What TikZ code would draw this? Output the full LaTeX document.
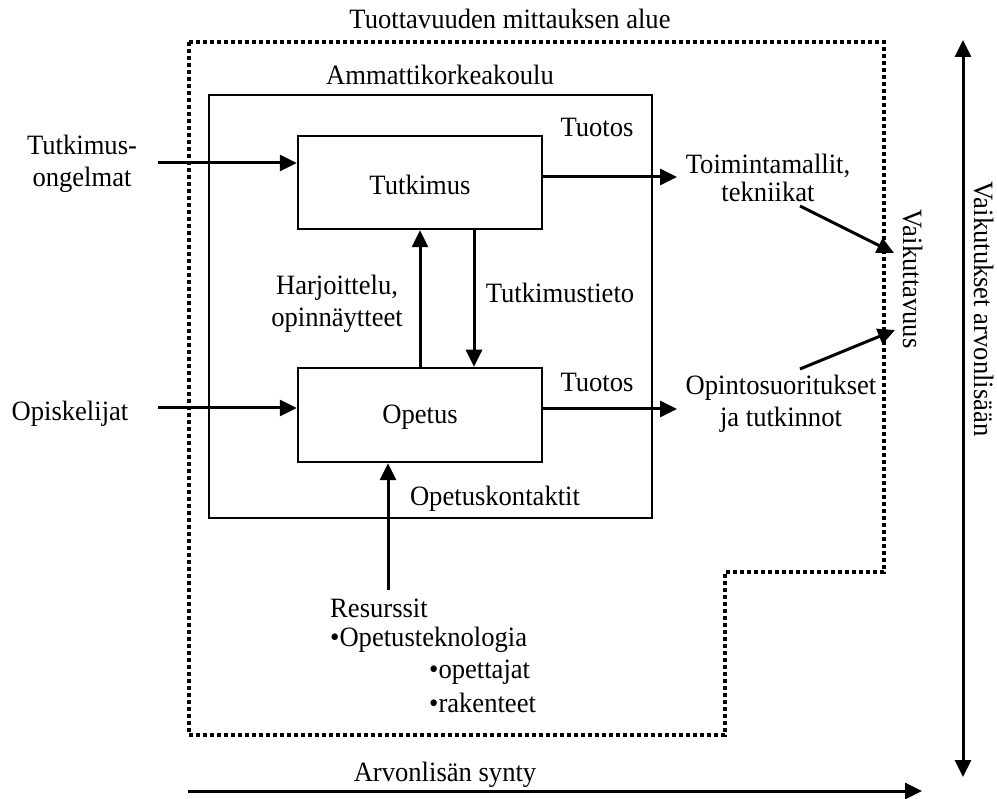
\documentclass[tikz,border=0pt]{standalone}
\usepackage{fontspec}
\setmainfont[FakeStretch=0.95]{Liberation Serif}
\usetikzlibrary{arrows.meta}
\begin{document}
\begin{tikzpicture}[x=1pt,y=-1pt,
  every node/.style={font=\fontsize{28}{32}\selectfont, inner sep=0pt},
  boxnode/.style={draw, line width=2.5pt},
  lbl/.style={align=center},
  conn/.style={line width=3pt, -{Triangle[length=17pt,width=16pt]}},
  dotline/.style={line width=3.8pt, dash pattern=on 4pt off 3pt}]
\useasboundingbox (0,0) rectangle (997,799);
% outline of measurement area
\draw[dotline] (189,42) -- (884,42) -- (884,572) -- (725,572) -- (725,735) -- (189,735) -- cycle;
\node (title) at (510,19) {Tuottavuuden mittauksen alue};
% institution
\node (amk) [boxnode, minimum width=443pt, minimum height=423pt] at (430.5,306.5) {};
\node (amklbl) at (440,75) {Ammattikorkeakoulu};
\node (tut) [boxnode, minimum width=244pt, minimum height=93pt] at (420,182.5) {};
\node (tuttxt) at (420,185) {Tutkimus};
\node (ope) [boxnode, minimum width=244pt, minimum height=94pt] at (420,415) {};
\node (opetxt) at (420,417) {Opetus};
\node (tuotos1) at (597,127) {Tuotos};
\node (tuotos2) at (597,382) {Tuotos};
\node (harj) [lbl] at (337,304) {Harjoittelu,\\opinnäytteet};
\node (tieto) at (560,293) {Tutkimustieto};
\node (kont) at (495,499) {Opetuskontaktit};
% inputs
\node (ong) [lbl] at (82,164) {Tutkimus-\\ongelmat};
\node (opisk) at (70,414) {Opiskelijat};
\coordinate (in1) at (158,163);
\coordinate (in2) at (158,408);
\draw[conn] (in1) -- (in1 -| tut.west);
\draw[conn] (in2) -- (in2 -| ope.west);
% outputs
\coordinate (out1) at (677,177);
\coordinate (out2) at (677,409);
\draw[conn] (out1 -| tut.east) -- (out1);
\draw[conn] (out2 -| ope.east) -- (out2);
\node (toim) [lbl, font=\fontsize{28}{28}\selectfont] at (768,178) {Toimintamallit,\\tekniikat};
\node (opin) [lbl] at (781,404) {Opintosuoritukset\\ja tutkinnot};
% internal flows
\coordinate (ux) at (420,300);
\coordinate (dx) at (474,300);
\draw[conn] (ux |- ope.north) -- (ux |- tut.south);
\draw[conn] (dx |- tut.south) -- (dx |- ope.north);
% resources
\coordinate (res) at (388,590);
\draw[conn] (res) -- (res |- ope.south);
\node (r1) [anchor=west] at (330,608) {Resurssit};
\node (r2) [anchor=west] at (330,640) {•Opetusteknologia};
\node (r3) [anchor=west] at (429,672) {•opettajat};
\node (r4) [anchor=west] at (429,703) {•rakenteet};
% effectiveness
\coordinate (d1s) at (800,206);
\coordinate (d1e) at (894,253);
\coordinate (d2s) at (800,369);
\coordinate (d2e) at (895,330);
\draw[conn] (d1s) -- (d1e);
\draw[conn] (d2s) -- (d2e);
\node (vaik) [rotate=-90] at (913,279) {Vaikuttavuus};
% value axes
\coordinate (hs) at (188,791);
\coordinate (he) at (922,791);
\draw[conn] (hs) -- (he);
\node (arv) at (445,775) {Arvonlisän synty};
\coordinate (vs) at (963,40);
\coordinate (ve) at (963,777);
\draw[line width=3pt, {Triangle[length=17pt,width=16pt]}-{Triangle[length=17pt,width=16pt]}] (vs) -- (ve);
\node (vaikarv) [rotate=-90] at (984,309) {Vaikutukset arvonlisään};
\end{tikzpicture}
\end{document}
